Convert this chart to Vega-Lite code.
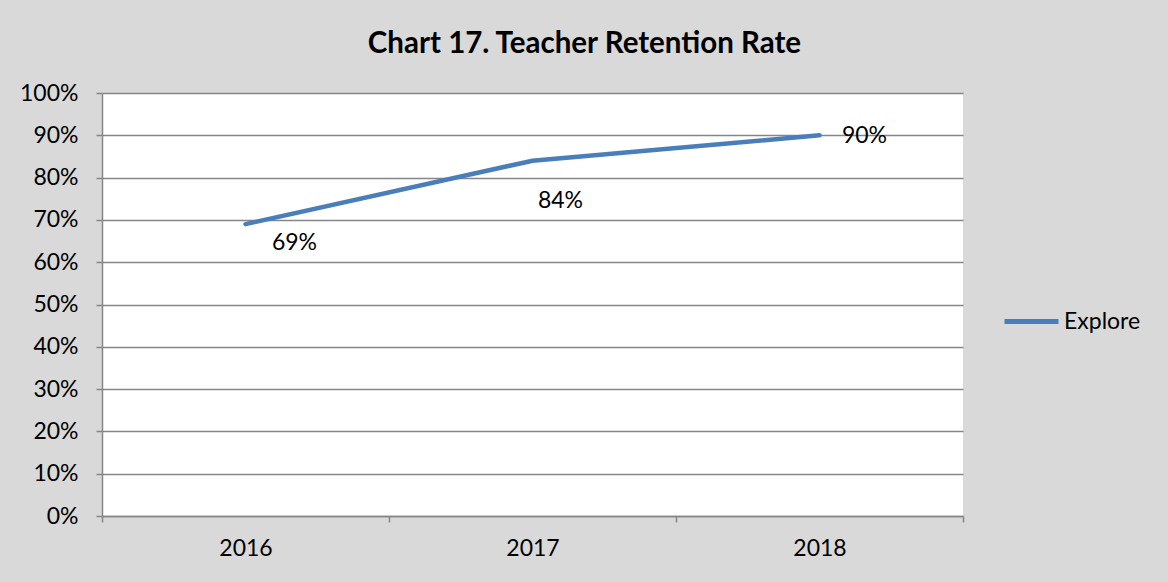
{
  "$schema": "https://vega.github.io/schema/vega-lite/v6.json",
  "width": 861,
  "height": 423,
  "autosize": {"type": "none"},
  "padding": {"left": 102, "top": 93, "right": 205, "bottom": 66},
  "background": "#d9d9d9",
  "config": {
    "font": "Lato",
    "view": {"stroke": null, "fill": "#ffffff"},
    "axis": {"labelFont": "Lato", "labelFontSize": 23, "labelColor": "#000000", "domainColor": "#868686", "tickColor": "#868686", "gridColor": "#868686", "domainWidth": 1.5, "tickWidth": 1.5, "gridWidth": 1.5, "title": null}
  },
  "title": {"text": "Chart 17. Teacher Retention Rate", "font": "Lato", "fontSize": 29.5, "fontWeight": "bold", "color": "#000000", "anchor": "middle", "frame": "group", "dx": 52, "offset": 23},
  "data": {"values": [
    {"year": "2016", "rate": 0.69, "series": "Explore"},
    {"year": "2017", "rate": 0.84, "series": "Explore"},
    {"year": "2018", "rate": 0.90, "series": "Explore"}
  ]},
  "encoding": {
    "x": {"field": "year", "type": "nominal", "scale": {"type": "band", "paddingInner": 0, "paddingOuter": 0}, "axis": {"labelAngle": 0, "tickBand": "extent", "tickSize": 6, "labelPadding": 15, "grid": false}},
    "y": {"field": "rate", "type": "quantitative", "scale": {"domain": [0, 1], "nice": false}, "axis": {"format": ".0%", "values": [0, 0.1, 0.2, 0.3, 0.4, 0.5, 0.6, 0.7, 0.8, 0.9, 1.0], "tickSize": 6, "labelPadding": 18, "grid": true}}
  },
  "layer": [
    {
      "mark": {"type": "line", "strokeWidth": 4.5, "strokeCap": "round"},
      "encoding": {
        "color": {"field": "series", "type": "nominal", "scale": {"range": ["#4a7ebb"]}, "legend": {"title": null, "orient": "none", "legendX": 900, "legendY": 199, "symbolType": "stroke", "symbolSize": 2916, "symbolStrokeWidth": 5, "labelFont": "Lato", "labelFontSize": 23, "labelColor": "#000000", "labelOffset": 3}}
      }
    },
    {
      "transform": [{"filter": "datum.year == '2016'"}],
      "mark": {"type": "text", "font": "Lato", "fontSize": 23, "dx": 49, "dy": 19, "color": "#000000"},
      "encoding": {"text": {"field": "rate", "type": "quantitative", "format": ".0%"}}
    },
    {
      "transform": [{"filter": "datum.year == '2017'"}],
      "mark": {"type": "text", "font": "Lato", "fontSize": 23, "dx": 28, "dy": 40, "color": "#000000"},
      "encoding": {"text": {"field": "rate", "type": "quantitative", "format": ".0%"}}
    },
    {
      "transform": [{"filter": "datum.year == '2018'"}],
      "mark": {"type": "text", "font": "Lato", "fontSize": 23, "dx": 45, "dy": 1, "color": "#000000"},
      "encoding": {"text": {"field": "rate", "type": "quantitative", "format": ".0%"}}
    }
  ]
}
